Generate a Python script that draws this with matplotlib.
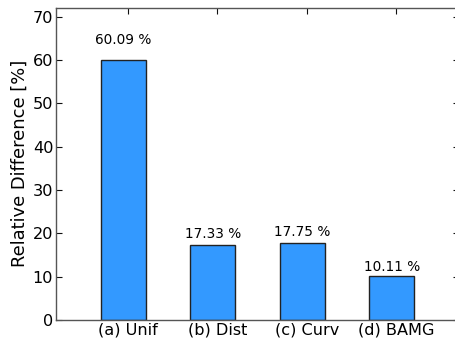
import matplotlib
matplotlib.use("Agg")
import matplotlib.pyplot as plt
import numpy as np

categories = ["(a) Unif", "(b) Dist", "(c) Curv", "(d) BAMG"]
rel_diff = [60.09, 17.33, 17.75, 10.11]

plt.rcParams["font.family"] = ["DejaVu Sans"]

fig = plt.figure(figsize=(4.55, 3.42), dpi=100)
ax = fig.add_axes([56 / 455, 22 / 342, 403 / 455, (320 - 7.5) / 342])

x = np.arange(len(categories))
width = 0.5
bars = ax.bar(x, rel_diff, width, align="edge", color="#3399ff",
              edgecolor="#222222", linewidth=1.0, zorder=2)

for rect, val in zip(bars, rel_diff):
    ax.text(rect.get_x() + rect.get_width() / 2, 1.05 * val, f"{val:.2f} %",
            ha="center", va="bottom", fontsize=9.8)

ax.set_xlim(-0.5, 4.0)
ax.set_ylim(0, 1.2 * max(rel_diff))
ax.set_xticks(x + 0.3)
ax.set_xticklabels(categories, fontsize=11.6)
ax.set_yticks(np.arange(0, 71, 10))
ax.tick_params(axis="y", labelsize=11.6, pad=2)
ax.tick_params(axis="x", pad=2)
ax.tick_params(direction="in", length=4, width=0.8, top=True, right=True,
               color="#111111")
ax.set_ylabel("Relative Difference [%]", fontsize=12.9, labelpad=3)

for s in ax.spines.values():
    s.set_color("#555555")
    s.set_linewidth(1.0)

fig.savefig("out.png", dpi=100)
